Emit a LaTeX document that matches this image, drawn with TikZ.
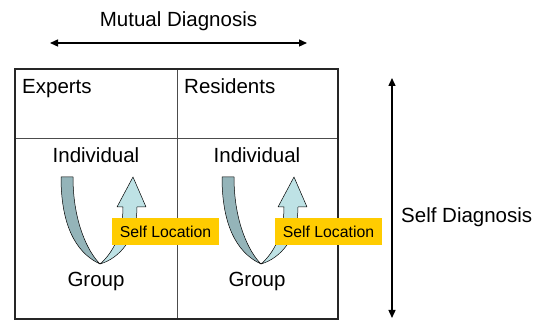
\documentclass[tikz,border=0pt]{standalone}
\usepackage{fontspec}
\setmainfont{Liberation Sans}
\usetikzlibrary{arrows.meta}

\definecolor{stripback}{HTML}{94B4B9}
\definecolor{stripfront}{HTML}{BEE2E5}
\definecolor{tagyellow}{HTML}{FFCC00}

\tikzset{
  label/.style={font=\fontsize{20.5}{24}\selectfont, inner sep=0pt},
  tag/.style={fill=tagyellow, font=\fontsize{15.8}{19}\selectfont, minimum width=107pt, minimum height=27pt, inner sep=0pt},
  axis/.style={line width=1.4pt, {Triangle[length=8pt,width=7pt]}-{Triangle[length=8pt,width=7pt]}},
  ribbon/.style={draw=black, line width=0.5pt, line join=round}
}

\begin{document}
\begin{tikzpicture}[x=1pt, y=-1pt]
      \useasboundingbox (0,0) rectangle (544,320);

      % Table
      \draw[line width=0.9pt, black!70] (177,69) -- (177,319);
      \draw[line width=0.9pt, black!70] (15,138) -- (338,138);
      \draw[line width=1.4pt, black!85] (15,69) rectangle (338,319);

      % Column headers
      \node (EXP) [label, anchor=base west] at (22,94) {Experts};
      \node (RES) [label, anchor=base west] at (184,94) {Residents};

      % Individual / Group with the turning ribbon in each column
      \foreach \dx/\c in {0/E, 161/R} {
          \node (IND\c) [label, anchor=base] at (96+\dx,163) {Individual};
          \node (GRP\c) [label, anchor=base] at (96+\dx,287) {Group};

          % back side, going down
          \filldraw[ribbon, fill=stripback]
            (61+\dx,177) .. controls (61+\dx,222) and (74+\dx,252) .. (100+\dx,264)
            .. controls (88+\dx,252) and (73+\dx,222) .. (73+\dx,177) -- cycle;

          % front side, going up into the head
          \filldraw[ribbon, fill=stripfront]
            (100+\dx,264) .. controls (120+\dx,258) and (137+\dx,238) .. (137+\dx,207)
            -- (146+\dx,207) -- (133+\dx,177) -- (117+\dx,207) -- (123+\dx,207)
            .. controls (123+\dx,232) and (114+\dx,252) .. (100+\dx,264) -- cycle;
        }

      % Self Location tags
      \node (LOCE) [tag] at (165.5,231.5) {Self Location};
      \node (LOCR) [tag] at (328.5,231.5) {Self Location};

      % Mutual Diagnosis
      \coordinate (M1) at (50,43);
      \coordinate (M2) at (307,43);
      \draw[axis] (M1) -- (M2);
      \node (MUT) [label] at (178.5,21) {Mutual Diagnosis};

      % Self Diagnosis
      \coordinate (S1) at (392,78);
      \coordinate (S2) at (392,318);
      \draw[axis] (S1) -- (S2);
      \node (SELF) [label, anchor=west] at (401,217) {Self Diagnosis};
\end{tikzpicture}
\end{document}
